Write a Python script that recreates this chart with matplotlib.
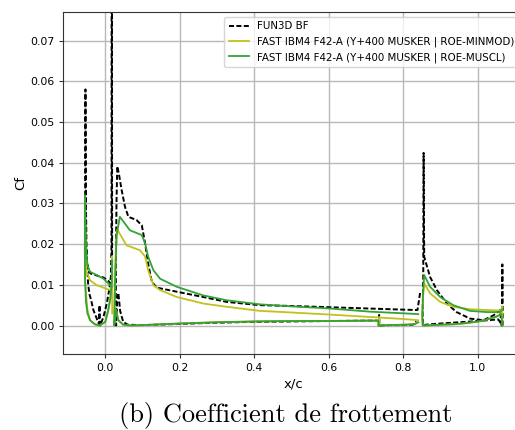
import numpy as np
import matplotlib
matplotlib.use('Agg')
import matplotlib.pyplot as plt

# --- FUN3D BF ---
fun3d_slat_x = [0.014, 0.010, -0.005, -0.020, -0.040, -0.045, -0.050, -0.052, -0.0533, -0.0540, -0.0530,
                -0.050, -0.046, -0.042, -0.038, -0.032, -0.023, -0.017, -0.0155, -0.0148, -0.014, -0.005,
                0.004, 0.011, 0.015, 0.0166, 0.0170, 0.0178, 0.0183]
fun3d_slat_cf = [0.0100, 0.0108, 0.0118, 0.0122, 0.0128, 0.0135, 0.0160, 0.0300, 0.0580, 0.0350, 0.0220,
                 0.0170, 0.0100, 0.0075, 0.0062, 0.0038, 0.0017, 0.0003, 0.0050, 0.0002, 0.0000, 0.0021,
                 0.0054, 0.0091, 0.0120, 0.0200, 0.1000, 0.1000, 0.0100]
fun3d_main_x = [0.845, 0.838, 0.800, 0.700, 0.600, 0.500, 0.415, 0.326, 0.263, 0.192, 0.138, 0.125, 0.115,
                0.107, 0.098, 0.084, 0.062, 0.053, 0.044, 0.036, 0.032, 0.030, 0.0285, 0.028,
                0.029, 0.032, 0.035, 0.040, 0.048, 0.060, 0.100, 0.200, 0.300, 0.400, 0.500, 0.600, 0.700,
                0.733, 0.734, 0.735, 0.736, 0.760, 0.800, 0.825, 0.835]
fun3d_main_cf = [0.0080, 0.0038, 0.0039, 0.0042, 0.0045, 0.0048, 0.0050, 0.0058, 0.0070, 0.0083, 0.0093,
                 0.0107, 0.0152, 0.0201, 0.0246, 0.0259, 0.0267, 0.0291, 0.0332, 0.0375, 0.0391, 0.0300,
                 0.0150, 0.0020,
                 0.0000, 0.0060, 0.0080, 0.0035, 0.0009, 0.0002, 0.0001, 0.0004, 0.0007, 0.0009, 0.0010,
                 0.0011, 0.0012, 0.0012, 0.0000, 0.0026, 0.0000, 0.0001, 0.0001, 0.0002, 0.0010]
fun3d_flap_x = [1.0635, 1.060, 1.042, 1.015, 0.979, 0.943, 0.917, 0.890, 0.872, 0.862, 0.856, 0.8545,
                0.8535, 0.852, 0.853, 0.860, 0.900, 0.950, 1.000, 1.040, 1.055, 1.062, 1.065, 1.0655,
                1.0662, 1.0668]
fun3d_flap_cf = [0.0000, 0.0038, 0.0025, 0.0013, 0.0017, 0.0033, 0.0054, 0.0087, 0.0119, 0.0150, 0.0169,
                 0.0424, 0.0120, 0.0030, 0.0000, 0.0002, 0.0005, 0.0008, 0.0011, 0.0014, 0.0015, 0.0005,
                 0.0000, 0.0150, 0.0150, 0.0000]

# --- FAST IBM4 ROE-MINMOD ---
minmod_slat_x = [0.017, 0.013, -0.005, -0.023, -0.041, -0.050, -0.053, -0.0545, -0.0550, -0.0540, -0.048,
                 -0.041, -0.028, -0.015, 0.000, 0.008, 0.014, 0.0175, 0.0180, 0.0185]
minmod_slat_cf = [0.0082, 0.0087, 0.0093, 0.0099, 0.0111, 0.0132, 0.0180, 0.0265, 0.0180, 0.0100, 0.0040,
                  0.0013, 0.0003, 0.0000, 0.0009, 0.0038, 0.0070, 0.0110, 0.0170, 0.0030]
minmod_main_x = [0.840, 0.800, 0.711, 0.600, 0.500, 0.415, 0.326, 0.263, 0.192, 0.147, 0.129, 0.115,
                 0.107, 0.093, 0.057, 0.032, 0.028, 0.025, 0.0235,
                 0.028, 0.035, 0.048, 0.070, 0.100, 0.200, 0.300, 0.400, 0.500, 0.600, 0.700, 0.733, 0.734,
                 0.735, 0.736, 0.760, 0.800, 0.830, 0.840]
minmod_main_cf = [0.0013, 0.0016, 0.0021, 0.0027, 0.0032, 0.0036, 0.0046, 0.0054, 0.0070, 0.0087, 0.0099,
                  0.0136, 0.0169, 0.0185, 0.0197, 0.0236, 0.0180, 0.0080, 0.0000,
                  0.0040, 0.0013, 0.0002, 0.0000, 0.0001, 0.0005, 0.0008, 0.0010, 0.0011, 0.0011, 0.0012,
                  0.0012, 0.0000, 0.0020, 0.0000, 0.0001, 0.0002, 0.0003, 0.0008]
minmod_flap_x = [1.0655, 1.063, 1.060, 1.024, 0.979, 0.934, 0.899, 0.872, 0.856, 0.853, 0.851, 0.852,
                 0.856, 0.900, 0.934, 0.970, 1.010, 1.050, 1.063, 1.0655, 1.066]
minmod_flap_cf = [0.0045, 0.0040, 0.0037, 0.0038, 0.0040, 0.0046, 0.0058, 0.0079, 0.0103, 0.0070, 0.0020,
                  0.0000, 0.0000, 0.0002, 0.0003, 0.0006, 0.0011, 0.0022, 0.0028, 0.0045, 0.0000]

# --- FAST IBM4 ROE-MUSCL ---
muscl_slat_x = [0.017, 0.013, -0.005, -0.023, -0.041, -0.048, -0.052, -0.0545, -0.0550, -0.0545, -0.052,
                -0.048, -0.041, -0.028, -0.015, 0.000, 0.008, 0.014, 0.0175, 0.0180]
muscl_slat_cf = [0.0095, 0.0099, 0.0115, 0.0124, 0.0132, 0.0148, 0.0200, 0.0320, 0.0200, 0.0120, 0.0060,
                 0.0030, 0.0013, 0.0003, 0.0000, 0.0009, 0.0038, 0.0070, 0.0110, 0.0160]
muscl_main_x = [0.840, 0.800, 0.711, 0.600, 0.500, 0.415, 0.326, 0.263, 0.192, 0.147, 0.129, 0.115,
                0.107, 0.098, 0.066, 0.039, 0.030, 0.026, 0.024,
                0.028, 0.035, 0.048, 0.070, 0.100, 0.200, 0.300, 0.400, 0.500, 0.600, 0.700, 0.733, 0.734,
                0.736, 0.760, 0.800, 0.830, 0.840]
muscl_main_cf = [0.0028, 0.0030, 0.0034, 0.0042, 0.0047, 0.0052, 0.0062, 0.0074, 0.0095, 0.0115, 0.0136,
                 0.0169, 0.0201, 0.0222, 0.0234, 0.0267, 0.0220, 0.0100, 0.0000,
                 0.0040, 0.0013, 0.0002, 0.0000, 0.0001, 0.0005, 0.0008, 0.0010, 0.0011, 0.0011, 0.0012,
                 0.0012, 0.0000, 0.0000, 0.0001, 0.0002, 0.0003, 0.0008]
muscl_flap_x = [1.0655, 1.060, 1.024, 0.979, 0.934, 0.899, 0.872, 0.856, 0.853, 0.851, 0.852, 0.856,
                0.900, 0.934, 0.970, 1.010, 1.050, 1.063, 1.066]
muscl_flap_cf = [0.0040, 0.0033, 0.0033, 0.0036, 0.0050, 0.0070, 0.0095, 0.0124, 0.0080, 0.0020, 0.0000,
                 0.0000, 0.0002, 0.0003, 0.0006, 0.0011, 0.0022, 0.0028, 0.0000]

labels = ['FUN3D BF',
          'FAST IBM4 F42-A (Y+400 MUSKER | ROE-MINMOD)',
          'FAST IBM4 F42-A (Y+400 MUSKER | ROE-MUSCL)']


def join(*parts):
    # elements separated by NaN so the line breaks between slat / main / flap
    out = []
    for p in parts:
        out += list(p) + [np.nan]
    return np.array(out[:-1])


fig = plt.figure(figsize=(5.15, 4.3), dpi=100)
ax = fig.add_axes([0.1229, 0.1767, 0.8946, 0.7953])

ax.plot(join(fun3d_slat_x, fun3d_main_x, fun3d_flap_x), join(fun3d_slat_cf, fun3d_main_cf, fun3d_flap_cf),
        color='black', ls=(0, (2.6, 1.2)), lw=1.4, label=labels[0])
ax.plot(join(minmod_slat_x, minmod_main_x, minmod_flap_x), join(minmod_slat_cf, minmod_main_cf, minmod_flap_cf),
        color='#c2c21e', lw=1.3, label=labels[1])
ax.plot(join(muscl_slat_x, muscl_main_x, muscl_flap_x), join(muscl_slat_cf, muscl_main_cf, muscl_flap_cf),
        color='#34a334', lw=1.3, label=labels[2])

ax.set_xlim(-0.1128, 1.124)
ax.set_ylim(-0.0070, 0.0770)
ax.set_xticks([0.0, 0.2, 0.4, 0.6, 0.8, 1.0])
ax.set_yticks([0.00, 0.01, 0.02, 0.03, 0.04, 0.05, 0.06, 0.07])
ax.tick_params(labelsize=7.8, length=3, color='#333333')
for s in ax.spines.values():
    s.set_color('#333333')
ax.grid(True, color='#b8b8b8', lw=1.0)
ax.set_xlabel('x/c', fontsize=9.5, labelpad=3)
ax.set_ylabel('Cf', fontsize=9.5, labelpad=2)
ax.legend(loc='upper right', fontsize=7.4, handlelength=2.0, borderaxespad=0.5)

fig.text(0.555, 0.0193, '(b) Coefficient de frottement', fontfamily='cmr10', fontsize=19,
         ha='center', va='baseline')

fig.savefig('out.png', dpi=100)
